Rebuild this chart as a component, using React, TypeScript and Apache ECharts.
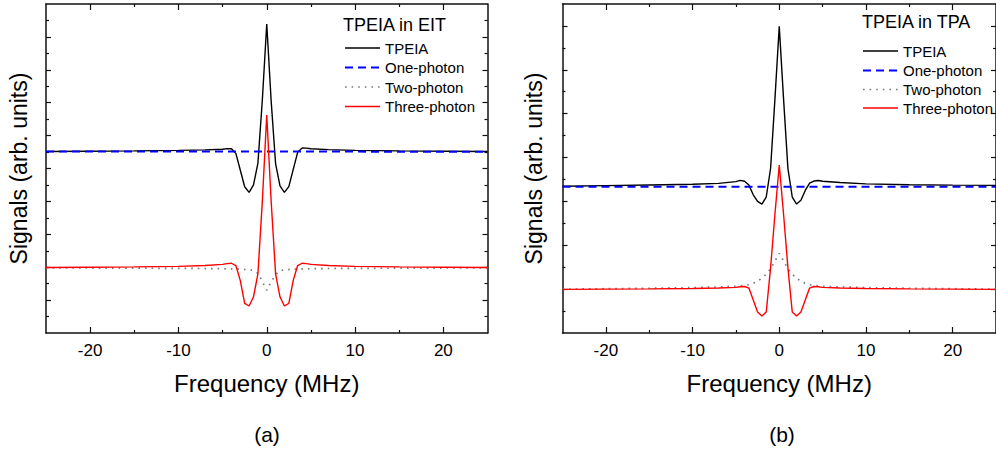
import React, { useEffect, useRef } from "react";
import * as echarts from "echarts";

// ---------- data ----------
const freqA = [-25, -20, -15, -10, -7, -5, -4.5, -4, -3.5, -3, -2.5, -2, -1.5, -1, -0.5, 0, 0.5, 1, 1.5, 2, 2.5, 3, 3.5, 4, 4.5, 5, 7, 10, 15, 20, 25];
const tpeiaA = [11.03, 11.05, 11.07, 11.1, 11.13, 11.17, 11.21, 11.2, 10.92, 9.91, 8.89, 8.55, 9.0, 10.33, 14.16, 18.78, 14.1, 10.3, 8.95, 8.55, 8.9, 9.95, 10.98, 11.25, 11.24, 11.2, 11.15, 11.1, 11.07, 11.05, 11.03];
const oneFreqA = [-25, 25];
const onePhotonA = [11.04, 11.02];
const twoPhotonA = [3.95, 3.95, 3.94, 3.93, 3.92, 3.91, 3.9, 3.9, 3.89, 3.88, 3.86, 3.85, 3.8, 3.63, 3.12, 2.6, 3.1, 3.55, 3.78, 3.85, 3.86, 3.88, 3.89, 3.9, 3.9, 3.91, 3.92, 3.93, 3.94, 3.95, 3.95];
const threePhotonA = [3.98, 4.0, 4.02, 4.05, 4.1, 4.17, 4.22, 4.24, 4.1, 3.2, 1.8, 1.64, 2.2, 3.6, 8.0, 13.25, 8.0, 3.6, 2.2, 1.64, 1.8, 3.2, 4.1, 4.24, 4.22, 4.17, 4.1, 4.05, 4.02, 4.0, 3.98];

const freqB = [-25, -20, -15, -10, -7, -5, -4.5, -4, -3.5, -3, -2.5, -2, -1.5, -1, -0.5, 0, 0.5, 1, 1.5, 2, 2.5, 3, 3.5, 4, 4.5, 5, 7, 10, 15, 20, 25];
const tpeiaB = [6.69, 6.72, 6.75, 6.78, 6.82, 6.9, 6.96, 6.92, 6.75, 6.3, 6.0, 5.88, 6.2, 7.5, 10.65, 13.98, 10.65, 7.5, 6.2, 5.88, 6.05, 6.5, 6.83, 6.93, 6.95, 6.92, 6.86, 6.8, 6.76, 6.74, 6.73];
const oneFreqB = [-25, 25];
const onePhotonB = [6.67, 6.67];
const twoPhotonB = [2.0, 2.02, 2.04, 2.07, 2.1, 2.13, 2.15, 2.17, 2.2, 2.26, 2.36, 2.5, 2.68, 2.93, 3.28, 3.63, 3.28, 2.93, 2.68, 2.5, 2.36, 2.26, 2.2, 2.17, 2.15, 2.13, 2.1, 2.07, 2.04, 2.02, 2.0];
const threePhotonB = [1.99, 2.0, 2.01, 2.03, 2.05, 2.08, 2.11, 2.12, 2.05, 1.5, 0.96, 0.77, 0.96, 2.97, 5.4, 7.66, 5.4, 2.97, 0.96, 0.77, 0.96, 1.5, 2.05, 2.12, 2.11, 2.08, 2.05, 2.03, 2.01, 2.0, 1.99];

const xMajorTicks = [-20, -10, 0, 10, 20];
const xMinorTicks = [-15, -5, 5, 15];
const yMajorTicksA = [2, 4, 6, 8, 10, 12, 14, 16, 18];
const yMinorTicksA = [1, 3, 5, 7, 9, 11, 13, 15, 17, 19];
const yMajorTicksB = [2, 4, 6, 8, 10, 12, 14];
const yMinorTicksB = [1, 3, 5, 7, 9, 11, 13];

const seriesNames = ["TPEIA", "One-photon", "Two-photon", "Three-photon"];
const panelTitles = ["TPEIA in EIT", "TPEIA in TPA"];
const panelLabels = ["(a)", "(b)"];
const xName = "Frequency (MHz)";
const yName = "Signals (arb. units)";

// ---------- styles ----------
const FONT = "'Liberation Sans', Arial, Helvetica, sans-serif";
const AXIS_COLOR = "#111";
const colors = ["#000000", "#0000ff", "#7a7a7a", "#ff0000"];
const dashes: any[] = ["solid", [8, 5], [1.6, 5], "solid"];
const widths = [1.4, 2, 1.7, 1.4];

const zip = (xs: number[], ys: number[]) => xs.map((x, i) => [x, ys[i]]);

function makeXAxes(gridIndex: number, nameGap: number) {
  const base = {
    gridIndex,
    type: "value",
    min: -25,
    max: 25,
    splitLine: { show: false },
  };
  const lineStyle = { color: AXIS_COLOR, width: 1.5 };
  return [
    {
      ...base,
      position: "bottom",
      axisLine: { show: true, onZero: false, lineStyle },
      axisTick: { show: true, inside: true, length: 6, customValues: xMajorTicks, lineStyle: { color: AXIS_COLOR, width: 1.2 } },
      axisLabel: { show: true, customValues: xMajorTicks, margin: 9, color: "#000", fontSize: 17, fontFamily: FONT },
      name: xName,
      nameLocation: "middle",
      nameGap,
      nameTextStyle: { color: "#000", fontSize: 24, fontFamily: FONT },
    },
    {
      ...base,
      position: "bottom",
      axisLine: { show: false, onZero: false },
      axisTick: { show: true, inside: true, length: 3, customValues: xMinorTicks, lineStyle: { color: AXIS_COLOR, width: 1.2 } },
      axisLabel: { show: false },
    },
    {
      ...base,
      position: "top",
      axisLine: { show: true, onZero: false, lineStyle },
      axisTick: { show: true, inside: true, length: 6, customValues: xMajorTicks, lineStyle: { color: AXIS_COLOR, width: 1.2 } },
      axisLabel: { show: false },
    },
    {
      ...base,
      position: "top",
      axisLine: { show: false, onZero: false },
      axisTick: { show: true, inside: true, length: 3, customValues: xMinorTicks, lineStyle: { color: AXIS_COLOR, width: 1.2 } },
      axisLabel: { show: false },
    },
  ];
}

function makeYAxes(gridIndex: number, max: number, major: number[], minor: number[], nameGap: number) {
  const base = { gridIndex, type: "value", min: 0, max, splitLine: { show: false } };
  const lineStyle = { color: AXIS_COLOR, width: 1.5 };
  const tickStyle = { color: AXIS_COLOR, width: 1.2 };
  return [
    {
      ...base,
      position: "left",
      axisLine: { show: true, onZero: false, lineStyle },
      axisTick: { show: true, inside: true, length: 5, customValues: major, lineStyle: tickStyle },
      axisLabel: { show: false },
      name: yName,
      nameLocation: "middle",
      nameGap,
      nameTextStyle: { color: "#000", fontSize: 23, fontFamily: FONT },
    },
    {
      ...base,
      position: "left",
      axisLine: { show: false, onZero: false },
      axisTick: { show: true, inside: true, length: 3, customValues: minor, lineStyle: tickStyle },
      axisLabel: { show: false },
    },
    {
      ...base,
      position: "right",
      axisLine: { show: true, onZero: false, lineStyle },
      axisTick: { show: true, inside: true, length: 5, customValues: major, lineStyle: tickStyle },
      axisLabel: { show: false },
    },
    {
      ...base,
      position: "right",
      axisLine: { show: false, onZero: false },
      axisTick: { show: true, inside: true, length: 3, customValues: minor, lineStyle: tickStyle },
      axisLabel: { show: false },
    },
  ];
}

function makeSeries(axisIndex: number, data: number[][][]) {
  return data.map((d, i) => ({
    name: seriesNames[i] + (axisIndex === 0 ? "" : " "),
    type: "line",
    xAxisIndex: axisIndex,
    yAxisIndex: axisIndex,
    data: d,
    showSymbol: false,
    symbol: "none",
    silent: true,
    lineStyle: { color: colors[i], width: widths[i], type: dashes[i] },
    z: 2 + i,
  }));
}

function legendGraphics(titleX: number, titleY: number, lineX: number, textX: number, rowsY: number[], title: string) {
  const els: any[] = [
    {
      type: "text",
      x: titleX,
      y: titleY,
      style: { text: title, fill: "#000", fontSize: 18, fontFamily: FONT, align: "left", verticalAlign: "middle", textAlign: "left", textVerticalAlign: "middle" },
    },
  ];
  rowsY.forEach((y, i) => {
    els.push({
      type: "line",
      shape: { x1: lineX, y1: y, x2: lineX + 35, y2: y },
      style: { stroke: colors[i], lineWidth: widths[i], lineDash: dashes[i] === "solid" ? null : dashes[i] },
    });
    els.push({
      type: "text",
      x: textX,
      y,
      style: { text: seriesNames[i], fill: "#000", fontSize: 15, fontFamily: FONT, align: "left", verticalAlign: "middle", textAlign: "left", textVerticalAlign: "middle" },
    });
  });
  return els;
}

export default function App() {
  const ref = useRef<HTMLDivElement>(null);
  useEffect(() => {
    if (!ref.current) return;
    const chart = echarts.init(ref.current, null, { renderer: "svg" });
    const option: any = {
      animation: false,
      backgroundColor: "#ffffff",
      textStyle: { fontFamily: FONT },
      grid: [
        { left: 46, top: 4, width: 441.5, height: 329 },
        { left: 562.5, top: 4, width: 440, height: 329 },
      ],
      xAxis: [...makeXAxes(0, 38), ...makeXAxes(1, 38)],
      yAxis: [
        ...makeYAxes(0, 20, yMajorTicksA, yMinorTicksA, 16),
        ...makeYAxes(1, 15, yMajorTicksB, yMinorTicksB, 17),
      ],
      series: [
        ...makeSeries(0, [zip(freqA, tpeiaA), zip(oneFreqA, onePhotonA), zip(freqA, twoPhotonA), zip(freqA, threePhotonA)]),
        ...makeSeries(4, [zip(freqB, tpeiaB), zip(oneFreqB, onePhotonB), zip(freqB, twoPhotonB), zip(freqB, threePhotonB)]),
      ],
      graphic: [
        ...legendGraphics(343, 25, 345, 385, [48, 67.5, 87, 106.5], panelTitles[0]),
        ...legendGraphics(862, 22, 863, 903, [51, 70.5, 89.5, 108], panelTitles[1]),
        {
          type: "text",
          x: 267,
          y: 434,
          style: { text: panelLabels[0], fill: "#000", fontSize: 21, fontFamily: FONT, align: "center", verticalAlign: "middle", textAlign: "center", textVerticalAlign: "middle" },
        },
        {
          type: "text",
          x: 782,
          y: 434,
          style: { text: panelLabels[1], fill: "#000", fontSize: 21, fontFamily: FONT, align: "center", verticalAlign: "middle", textAlign: "center", textVerticalAlign: "middle" },
        },
      ],
    };
    chart.setOption(option);
    return () => chart.dispose();
  }, []);
  return (
    <div
      ref={ref}
      style={{ position: "absolute", left: 0, top: 0, width: 996, height: 450, background: "#fff" }}
    />
  );
}
